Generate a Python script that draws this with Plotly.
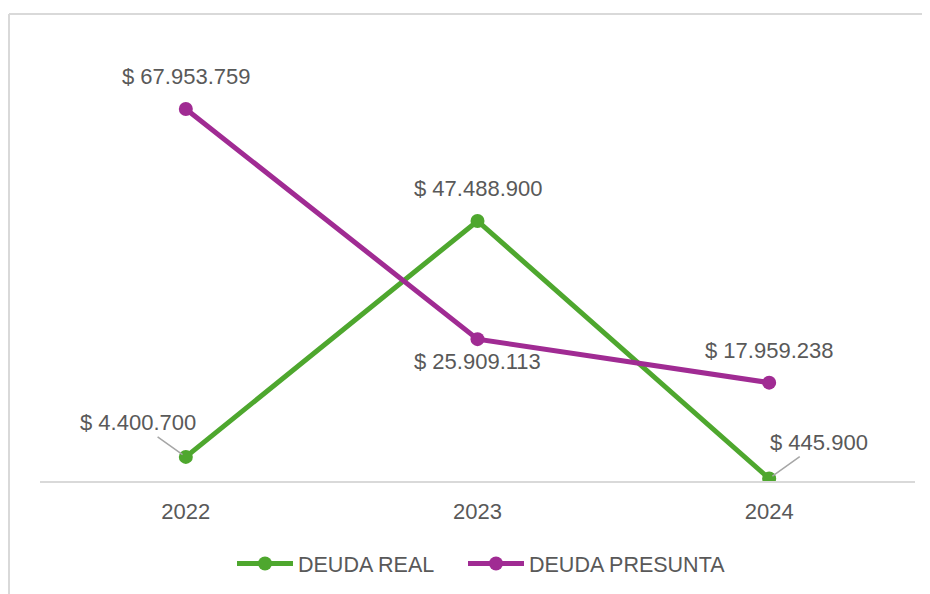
import plotly.graph_objects as go

years = ["2022", "2023", "2024"]
deuda_real = [4400700, 47488900, 445900]
deuda_presunta = [67953759, 25909113, 17959238]
series_names = ["DEUDA REAL", "DEUDA PRESUNTA"]

GREEN = "#4EA72E"
PURPLE = "#A02B93"
TXT = "#595959"
FONT = "Liberation Sans"

W, H = 922, 586
L, R, T, B = 32, 15, 35, 113
PW, PH = W - L - R, H - T - B

def fmt(v):
    return "$ " + f"{v:,}".replace(",", ".")

def px(xp):
    return (xp - 8 - L) / PW

def py(yp):
    return (H - B - (yp - 8)) / PH

fig = go.Figure()
fig.add_trace(go.Scatter(x=years, y=deuda_real, name=series_names[0], mode="lines+markers",
                         line=dict(color=GREEN, width=5), marker=dict(size=14, color=GREEN),
                         legend="legend"))
fig.add_trace(go.Scatter(x=years, y=deuda_presunta, name=series_names[1], mode="lines+markers",
                         line=dict(color=PURPLE, width=5), marker=dict(size=14, color=PURPLE),
                         legend="legend2"))

# label offsets (pixels) relative to each point
real_off = [(-48, -34, True), (0, 33, False), (50, -36, True)]
pres_off = [(0, 32, False), (0, -22, False), (0, 32, False)]

anns = []
for vals, offs in ((deuda_real, real_off), (deuda_presunta, pres_off)):
    for i, (v, (dx, dy, arrow)) in enumerate(zip(vals, offs)):
        if arrow:
            anns.append(dict(x=i, y=v, xref="x", yref="y", text=fmt(v), showarrow=True,
                             arrowhead=0, arrowwidth=1.5, arrowcolor="#A6A6A6",
                             ax=dx, ay=dy, standoff=4,
                             font=dict(family=FONT, size=22, color=TXT)))
        else:
            anns.append(dict(x=i, y=v, xref="x", yref="y", text=fmt(v), showarrow=False,
                             yshift=dy, font=dict(family=FONT, size=22, color=TXT)))

leg_common = dict(orientation="h", xref="container", yref="container",
                  xanchor="left", y=1 - (535 - 8 + 8) / H, yanchor="top",
                  font=dict(family=FONT, size=21.5, color=TXT), itemwidth=56)

fig.update_layout(
    width=W, height=H,
    margin=dict(l=L, r=R, t=T, b=B),
    paper_bgcolor="white", plot_bgcolor="white",
    font=dict(family=FONT, color=TXT),
    showlegend=True,
    legend=dict(x=(237 - 8 - 5) / W, **leg_common),
    legend2=dict(x=(468 - 8 - 5) / W, **leg_common),
    xaxis=dict(type="category", range=[-0.5, 2.5], showgrid=False, showline=True,
               linecolor="#D9D9D9", linewidth=2, ticks="outside", ticklen=10,
               tickcolor="rgba(0,0,0,0)", zeroline=False,
               tickfont=dict(family=FONT, size=22, color=TXT)),
    yaxis=dict(range=[0, 80000000], visible=False, showgrid=False, zeroline=False),
    annotations=anns,
    shapes=[
        dict(type="line", xref="paper", yref="paper", x0=px(9), x1=px(940),
             y0=py(14), y1=py(14), line=dict(color="#D9D9D9", width=2)),
        dict(type="line", xref="paper", yref="paper", x0=px(9), x1=px(9),
             y0=py(14), y1=py(600), line=dict(color="#D9D9D9", width=2)),
    ],
)

fig.write_html("out.html")
